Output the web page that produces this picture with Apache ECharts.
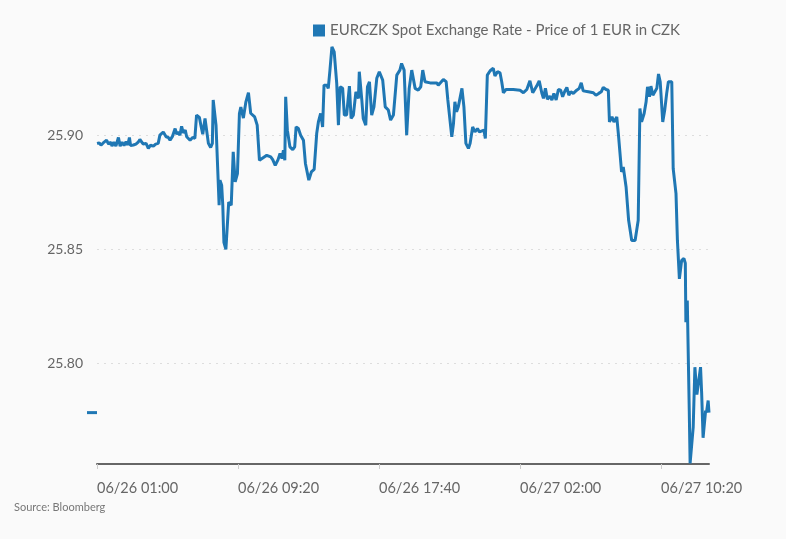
<!DOCTYPE html>
<html>
<head>
<meta charset="utf-8">
<script src="https://cdn.jsdelivr.net/npm/echarts@6/dist/echarts.min.js"></script>
<style>
  html, body { margin: 0; padding: 0; background: #fafafa; }
  #main { width: 786px; height: 539px; }
</style>
</head>
<body>
<div id="main"></div>
<script>
// minutes since 06/26 01:00
var minutes = [0, 8, 14, 22, 28, 34, 41, 49, 53, 60, 67, 76, 82, 89, 96, 103, 109, 115, 119, 129,
    138, 147, 152, 158, 164, 174, 182, 190, 200, 208, 217, 223, 229, 235, 245, 253, 259, 268, 277, 283,
    288, 294, 300, 306, 313, 318, 324, 330, 339, 347, 353, 363, 369, 375, 383, 389, 395, 403, 409, 412,
    417, 422, 427, 433, 436, 442, 446, 450, 457, 467, 476, 483, 490, 498, 505, 510, 519, 528, 537, 545,
    552, 559, 568, 576, 583, 602, 616, 623, 632, 642, 649, 656, 661, 666, 669, 675, 684, 694, 701, 706,
    714, 722, 732, 739, 746, 751, 760, 770, 779, 785, 793, 800, 805, 815, 820, 826, 833, 841, 850, 856,
    862, 871, 877, 885, 895, 901, 909, 918, 927, 930, 939, 944, 953, 959, 966, 974, 982, 992, 1001, 1013,
    1022, 1033, 1041, 1051, 1063, 1074, 1080, 1089, 1098, 1107, 1116, 1122, 1128, 1139, 1148, 1155, 1163, 1181, 1205, 1210,
    1228, 1238, 1244, 1249, 1258, 1264, 1269, 1275, 1281, 1287, 1294, 1301, 1308, 1317, 1323, 1332, 1340, 1349, 1356, 1372,
    1377, 1384, 1394, 1405, 1411, 1420, 1429, 1435, 1441, 1450, 1476, 1500, 1512, 1524, 1535, 1545, 1559, 1568, 1577, 1583,
    1590, 1597, 1606, 1613, 1620, 1628, 1636, 1644, 1651, 1658, 1666, 1673, 1680, 1689, 1701, 1710, 1717, 1724, 1742, 1760,
    1769, 1779, 1788, 1795, 1805, 1813, 1817, 1826, 1833, 1843, 1849, 1854, 1860, 1866, 1876, 1885, 1896, 1908, 1919, 1925,
    1931, 1940, 1947, 1952, 1959, 1964, 1971, 1978, 1985, 1991, 1997, 2006, 2013, 2020, 2026, 2038, 2043, 2053, 2058, 2065,
    2073, 2081, 2086, 2088, 2093, 2100, 2103, 2109, 2114, 2120, 2127, 2134, 2140, 2144, 2149, 2154, 2158, 2161, 2167, 2170];

var rates = [25.8964, 25.8966, 25.8956, 25.8966, 25.8961, 25.8978, 25.8961, 25.8969, 25.8952, 25.8969, 25.8952, 25.8990, 25.8952, 25.8969, 25.8955, 25.8972, 25.8957, 25.8990, 25.8955, 25.8957,
    25.8961, 25.8971, 25.8981, 25.8978, 25.8961, 25.8964, 25.8942, 25.8956, 25.8952, 25.8961, 25.8964, 25.9000, 25.8996, 25.9014, 25.8993, 25.8990, 25.8978, 25.8996, 25.9029, 25.9004,
    25.9014, 25.9000, 25.9039, 25.9010, 25.9022, 25.8993, 25.9000, 25.8978, 25.8990, 25.8986, 25.9088, 25.9078, 25.9039, 25.9004, 25.9073, 25.9066, 25.8964, 25.8946, 25.8964, 25.9154,
    25.9154, 25.9044, 25.9036, 25.8693, 25.8803, 25.8781, 25.8693, 25.8531, 25.8500, 25.8707, 25.8693, 25.8927, 25.8795, 25.8832, 25.9095, 25.9123, 25.9075, 25.9146, 25.9186, 25.9096,
    25.9102, 25.9080, 25.9044, 25.8890, 25.8898, 25.8912, 25.8905, 25.8893, 25.8868, 25.8893, 25.8920, 25.8898, 25.8934, 25.8890, 25.9168, 25.9022, 25.8949, 25.8937, 25.8949, 25.9036,
    25.9029, 25.9000, 25.8978, 25.8876, 25.8868, 25.8803, 25.8839, 25.8850, 25.9007, 25.9058, 25.9095, 25.9036, 25.9219, 25.9219, 25.9205, 25.9285, 25.9387, 25.9365, 25.9227, 25.9044,
    25.9212, 25.9205, 25.9088, 25.9088, 25.9215, 25.9073, 25.9088, 25.9190, 25.9161, 25.9278, 25.9154, 25.9073, 25.9044, 25.9212, 25.9234, 25.9088, 25.9124, 25.9249, 25.9278, 25.9241,
    25.9124, 25.9110, 25.9066, 25.9088, 25.9263, 25.9285, 25.9314, 25.9285, 25.9000, 25.9205, 25.9285, 25.9293, 25.9205, 25.9197, 25.9212, 25.9285, 25.9234, 25.9229, 25.9229, 25.9219,
    25.9244, 25.9234, 25.9154, 25.9146, 25.8993, 25.9051, 25.9146, 25.9102, 25.9124, 25.9117, 25.9205, 25.9124, 25.8964, 25.8942, 25.8964, 25.9036, 25.9014, 25.9029, 25.9014, 25.9022,
    25.8986, 25.9263, 25.9282, 25.9293, 25.9259, 25.9278, 25.9273, 25.9234, 25.9186, 25.9200, 25.9200, 25.9197, 25.9186, 25.9200, 25.9238, 25.9186, 25.9215, 25.9238, 25.9186, 25.9161,
    25.9205, 25.9157, 25.9171, 25.9154, 25.9183, 25.9154, 25.9200, 25.9197, 25.9168, 25.9190, 25.9209, 25.9175, 25.9190, 25.9183, 25.9197, 25.9205, 25.9229, 25.9194, 25.9190, 25.9186,
    25.9175, 25.9183, 25.9190, 25.9209, 25.9200, 25.9197, 25.9058, 25.9080, 25.9058, 25.9080, 25.9000, 25.9007, 25.8839, 25.8861, 25.8773, 25.8627, 25.8539, 25.8539, 25.8627, 25.9117,
    25.9058, 25.9095, 25.9146, 25.9212, 25.9168, 25.9215, 25.9175, 25.9190, 25.9205, 25.9268, 25.9234, 25.9058, 25.9110, 25.9183, 25.9234, 25.9234, 25.8854, 25.8744, 25.8539, 25.8371,
    25.8452, 25.8460, 25.8439, 25.8181, 25.8276, 25.7794, 25.7563, 25.7563, 25.7721, 25.7984, 25.7864, 25.7864, 25.7984, 25.7868, 25.7675, 25.7675, 25.7794, 25.7785, 25.7838, 25.7785];

var tickMinutes = [0, 500, 1000, 1500, 2000];
var seriesName = 'EURCZK Spot Exchange Rate - Price of 1 EUR in CZK';

var points = [];
for (var i = 0; i < minutes.length; i++) {
    points.push([minutes[i], rates[i]]);
}
var lastRate = rates[rates.length - 1];

function pad(n) { return n < 10 ? '0' + n : '' + n; }
function minuteLabel(m) {
    var d = new Date(Date.UTC(2018, 5, 26, 1, 0) + m * 60000);
    return pad(d.getUTCMonth() + 1) + '/' + pad(d.getUTCDate()) + ' ' +
        pad(d.getUTCHours()) + ':' + pad(d.getUTCMinutes());
}

var myChart = echarts.init(document.getElementById('main'));
var option = {
    backgroundColor: '#fafafa',
    animation: false,
    textStyle: { fontFamily: 'Lato' },
    title: {
        text: 'Source: Bloomberg',
        left: 9,
        top: 497,
        textStyle: { fontSize: 11, fontWeight: 'normal', color: '#777', fontFamily: 'Lato' }
    },
    legend: {
        left: 308,
        top: 18,
        itemWidth: 12,
        itemHeight: 12,
        icon: 'rect',
        textStyle: { fontSize: 15, color: '#666', fontFamily: 'Lato' },
        data: [seriesName]
    },
    grid: { left: 97, right: 77, top: 21, bottom: 75 },
    xAxis: {
        type: 'value',
        min: 0,
        max: 2170,
        axisLine: { show: true, lineStyle: { color: '#666', width: 2 } },
        axisTick: { show: true, length: 5, lineStyle: { color: '#ccc' }, customValues: tickMinutes },
        axisLabel: {
            customValues: tickMinutes,
            align: 'left',
            margin: 17,
            fontSize: 14.5,
            color: '#666',
            fontFamily: 'Lato',
            formatter: function (v) { return minuteLabel(v); }
        },
        splitLine: { show: false }
    },
    yAxis: {
        type: 'value',
        min: 25.756,
        max: 25.95,
        splitNumber: 4,
        axisLine: { show: false },
        axisTick: { show: false },
        axisLabel: {
            showMinLabel: false,
            showMaxLabel: false,
            margin: 14,
            fontSize: 14,
            color: '#666',
            fontFamily: 'Lato',
            formatter: function (v) { return v.toFixed(2); }
        },
        splitLine: {
            show: true,
            showMinLine: false,
            showMaxLine: false,
            lineStyle: { color: '#ddd', type: [2, 5] }
        }
    },
    series: [{
        name: seriesName,
        type: 'line',
        data: points,
        showSymbol: false,
        symbol: 'none',
        color: '#1f77b4',
        lineStyle: { width: 3, color: '#1f77b4' },
        markPoint: {
            symbol: 'rect',
            symbolSize: [10, 3],
            symbolOffset: [-5, 0],
            label: { show: false },
            itemStyle: { color: '#1f77b4' },
            data: [{ coord: [0, lastRate] }]
        }
    }]
};
myChart.setOption(option);
</script>
</body>
</html>
